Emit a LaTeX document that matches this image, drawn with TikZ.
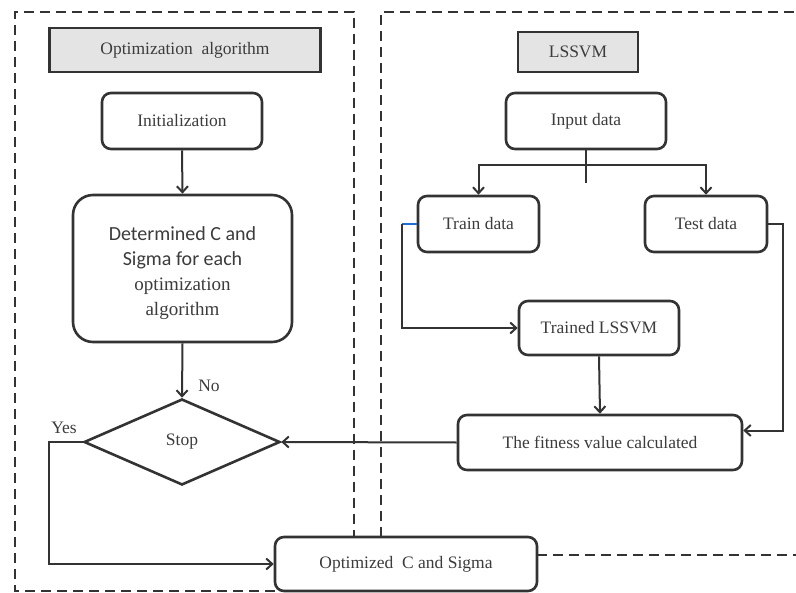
\documentclass[tikz,border=0pt]{standalone}
\usepackage{fontspec}
\setmainfont{Liberation Serif}
\newfontfamily\calib{Carlito}
\usetikzlibrary{shapes.geometric,arrows.meta,calc}
\definecolor{ln}{HTML}{333333}
\definecolor{tx}{HTML}{3C3C3C}
\definecolor{hdr}{HTML}{E4E4E4}
\definecolor{bl}{HTML}{1F6FD0}
\newcommand\cfont{\calib\fontsize{20bp}{25bp}\selectfont}
\newcommand\sfontb{\rmfamily\fontsize{19bp}{25bp}\selectfont}
\begin{document}
\begin{tikzpicture}[x=1bp,y=-1bp,
  every node/.style={text=tx,font=\fontsize{17.5bp}{21bp}\selectfont},
  hdrbox/.style={draw=ln,line width=2.6bp,fill=hdr,inner sep=0pt},
  rbox/.style={draw=ln,line width=2.6bp,rounded corners=9bp,inner sep=0pt,align=center},
  conn/.style={draw=ln,line width=2bp},
  arr/.style={conn,-{Straight Barb[length=6bp,width=11bp,line width=2bp]}},
  dbox/.style={draw=ln,line width=2.2bp,dash pattern=on 10bp off 6bp}]
\useasboundingbox (0,0) rectangle (796,593);
\fill[white] (0,0) rectangle (796,593);
% dashed frames
\draw[dbox] (275,591) -- (15,591) -- (15,12) -- (354,12) -- (354,537);
\draw[dbox] (381,537) -- (381,12) -- (796,12);
\draw[dbox] (537,555) -- (796,555);
% left side
\node[hdrbox,minimum width=271bp,minimum height=44bp] (optH) at (185,50) {Optimization\ \ algorithm};
\node[rbox,minimum width=160bp,minimum height=56bp] (init) at (182,121) {Initialization};
\node[rbox,rounded corners=20bp,minimum width=219bp,minimum height=147bp,font=\sfontb] (det) at (182.5,268.5) {\cfont\rule{0pt}{24bp}Determined C and\\\cfont Sigma for each\\\sfontb optimization\\\sfontb algorithm};
\node[diamond,draw=ln,line width=2.6bp,minimum width=196bp,minimum height=86bp,inner sep=0pt] (stop) at (182,442) {Stop};
\node[rbox,minimum width=262bp,minimum height=54bp] (opt) at (406,564) {Optimized\ \ C and Sigma};
% right side
\node[hdrbox,minimum width=120bp,minimum height=40bp] (lsH) at (578,52) {LSSVM};
\node[rbox,minimum width=160bp,minimum height=56bp] (input) at (586,121) {Input data};
\node[rbox,minimum width=121bp,minimum height=56bp] (train) at (478.5,224) {Train data};
\node[rbox,minimum width=122bp,minimum height=56bp] (test) at (706,224) {Test data};
\node[rbox,minimum width=160bp,minimum height=54bp] (trained) at (599,328) {Trained LSSVM};
\node[rbox,minimum width=284bp,minimum height=55bp] (fit) at (600,442.5) {The fitness value calculated};
% labels
\node (no) at (209,386) {No};
\node (yes) at (64,428) {Yes};
% coordinates
\coordinate (split) at (586,165);
\coordinate (stub) at (586,183);
\coordinate (tl) at (402,224);
\coordinate (tr) at (783,224);
\coordinate (yl) at (49,442);
% connectors
\draw[arr] (init.south) -- (det.north);
\draw[arr] (det.south) -- (stop.north);
\draw[arr] (stop.west) -- (yl) |- (opt.west);
\draw[conn] (input.south) -- (stub);
\draw[arr] (split) -| (train.north);
\draw[arr] (split) -| (test.north);
\draw[draw=bl,line width=2bp] (train.west) -- (tl);
\draw[arr] (tl) |- (trained.west);
\draw[arr] (trained.south) -- (fit.north);
\draw[arr] (test.east) -- (tr) |- ($(fit.east)+(0,-12)$);
\draw[arr] (fit.west) -- (stop.east);
\end{tikzpicture}
\end{document}
